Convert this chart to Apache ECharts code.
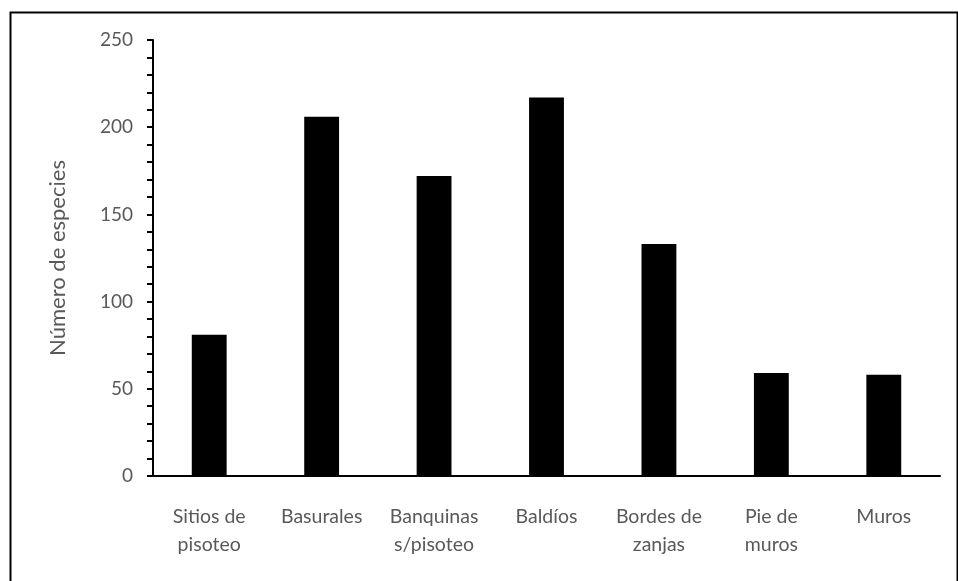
<!DOCTYPE html>
<html><head><meta charset="utf-8">
<script src="https://cdn.jsdelivr.net/npm/echarts@6/dist/echarts.min.js"></script>
<style>html,body{margin:0;padding:0;background:#fff}#c{width:958px;height:581px}</style>
</head><body><div id="c"></div>
<script>
const categories = ["Sitios de\npisoteo", "Basurales", "Banquinas\ns/pisoteo", "Baldíos", "Bordes de\nzanjas", "Pie de\nmuros", "Muros"];
const values = [81, 206, 172, 217, 133, 59, 58];
const yTicks = [0, 50, 100, 150, 200, 250];
const yTitle = "Número de especies";

const font = "Lato, 'Open Sans', sans-serif";
const chart = echarts.init(document.getElementById('c'), null, {renderer: 'canvas'});
chart.setOption({
  animation: false,
  backgroundColor: '#fff',
  graphic: [{
    type: 'rect', left: 8, top: 10,
    shape: {x: 0, y: 0, width: 947, height: 620},
    style: {fill: 'none', stroke: '#000', lineWidth: 2}
  }],
  grid: {left: 153, right: 18, top: 40, bottom: 105, containLabel: false},
  xAxis: {
    type: 'category', data: categories,
    axisLine: {lineStyle: {color: '#000', width: 2}},
    axisTick: {show: false},
    axisLabel: {color: '#595959', fontFamily: font, fontSize: 19.5, lineHeight: 28, margin: 27, interval: 0}
  },
  yAxis: {
    type: 'value', min: yTicks[0], max: yTicks[yTicks.length - 1], interval: 50,
    name: yTitle, nameLocation: 'middle', nameRotate: 90, nameGap: 84,
    nameTextStyle: {color: '#595959', fontFamily: font, fontSize: 22},
    axisLine: {show: true, lineStyle: {color: '#000', width: 2}},
    axisTick: {show: true, length: 6, lineStyle: {color: '#000', width: 2}},
    minorTick: {show: true, splitNumber: 5, length: 6, lineStyle: {color: '#000', width: 2}},
    splitLine: {show: false},
    axisLabel: {color: '#595959', fontFamily: font, fontSize: 19, margin: 20}
  },
  series: [{
    type: 'bar', data: values, barWidth: '31%',
    itemStyle: {color: '#000'}
  }]
});
</script></body></html>
